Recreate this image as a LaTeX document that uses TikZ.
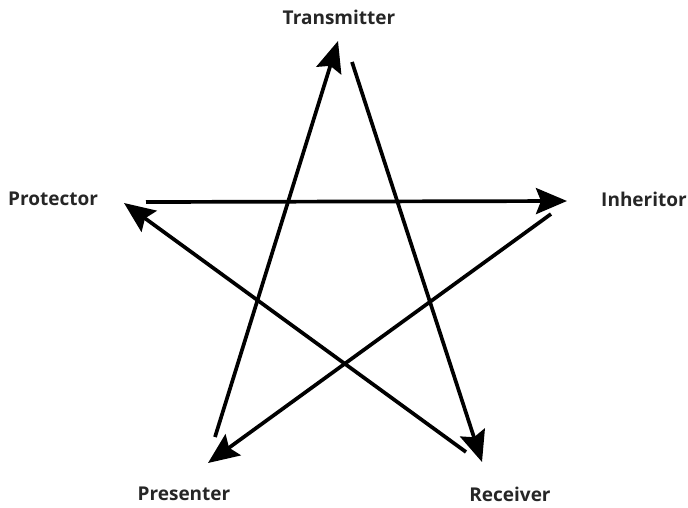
\documentclass[tikz,border=0pt]{standalone}
\usepackage{fontspec}
\setmainfont{Open Sans}
\usetikzlibrary{arrows.meta}
\begin{document}
\begin{tikzpicture}[x=1pt,y=-1pt,
  role/.style={font=\fontsize{19}{22}\selectfont\bfseries, text=black!85, inner sep=0pt},
  link/.style={line width=3.7pt, -{Stealth[length=31pt,width=26pt,inset=5pt]}}]
\useasboundingbox (0,0) rectangle (688,507);
% role labels
\node[role] (tr) at (339,17) {Transmitter};
\node[role] (pt) at (53,199) {Protector};
\node[role] (ih) at (644,199) {Inheritor};
\node[role] (ps) at (184,494) {Presenter};
\node[role] (rc) at (510,494) {Receiver};
% arrow end points around each label
\coordinate (trIn) at (338,41);
\coordinate (trOut) at (352,62);
\coordinate (ptIn) at (124,203);
\coordinate (ptOut) at (146,202);
\coordinate (ihIn) at (567,201);
\coordinate (ihOut) at (551,214);
\coordinate (psIn) at (208,463);
\coordinate (psOut) at (215,437);
\coordinate (rcIn) at (482,462);
\coordinate (rcOut) at (466,452);
% the star of passing arrows
\draw[link] (ptOut) -- (ihIn);
\draw[link] (ihOut) -- (psIn);
\draw[link] (psOut) -- (trIn);
\draw[link] (trOut) -- (rcIn);
\draw[link] (rcOut) -- (ptIn);
\end{tikzpicture}
\end{document}
